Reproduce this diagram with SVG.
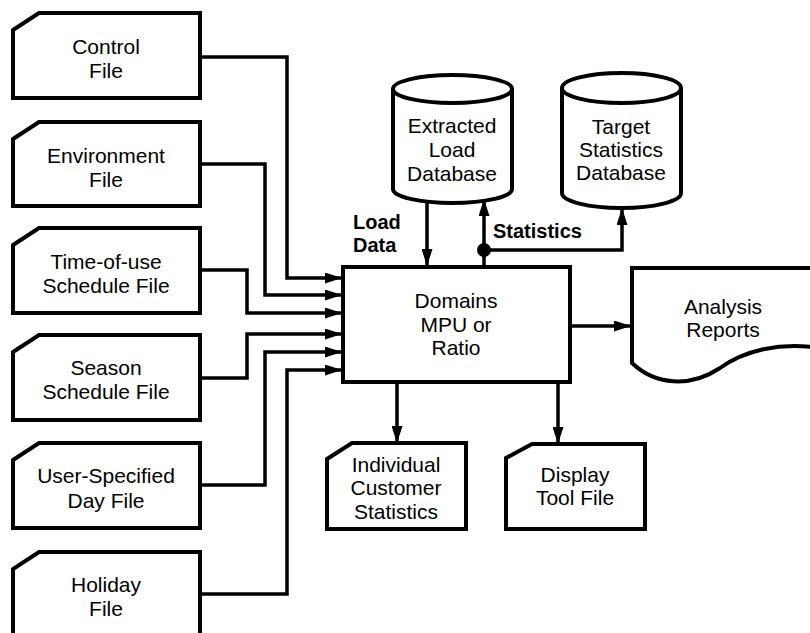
<svg xmlns="http://www.w3.org/2000/svg" width="810" height="633" viewBox="0 0 810 633">
<style>
.s{fill:#fff;stroke:#000;stroke-width:4;stroke-linejoin:miter}
.t{font-family:"Liberation Sans",Arial,sans-serif;font-size:21px;fill:#000;text-anchor:middle}
.b{font-family:"Liberation Sans",Arial,sans-serif;font-size:20px;font-weight:bold;fill:#000}
.c{fill:none;stroke:#000;stroke-width:3.5}
</style>
<defs>
<marker id="ah" markerUnits="userSpaceOnUse" markerWidth="17" markerHeight="11" refX="17" refY="5.5" orient="auto">
<path d="M0,0 L17,5.5 L0,11 Z" fill="#000"/>
</marker>
</defs>
<rect width="810" height="633" fill="#fff"/>

<g id="control">
<path class="s" d="M13,30 L39,13 L200,13 L200,98 L13,98 Z"/>
<text class="t" x="106" y="54">Control</text>
<text class="t" x="106" y="78">File</text>
</g>
<g id="environment">
<path class="s" d="M13,139 L39,122 L200,122 L200,206 L13,206 Z"/>
<text class="t" x="106" y="163">Environment</text>
<text class="t" x="106" y="187">File</text>
</g>
<g id="timeofuse">
<path class="s" d="M13,245 L39,228 L200,228 L200,313 L13,313 Z"/>
<text class="t" x="106" y="269">Time-of-use</text>
<text class="t" x="106" y="293">Schedule File</text>
</g>
<g id="season">
<path class="s" d="M13,352 L39,335 L200,335 L200,420 L13,420 Z"/>
<text class="t" x="106" y="375">Season</text>
<text class="t" x="106" y="399">Schedule File</text>
</g>
<g id="userday">
<path class="s" d="M13,460 L39,443 L200,443 L200,528 L13,528 Z"/>
<text class="t" x="106" y="483">User-Specified</text>
<text class="t" x="106" y="508">Day File</text>
</g>
<g id="holiday">
<path class="s" d="M13,640 L13,569 L39,552 L200,552 L200,640"/>
<text class="t" x="106" y="592">Holiday</text>
<text class="t" x="106" y="616">File</text>
</g>

<g id="domains">
<rect class="s" x="343" y="267" width="227" height="115"/>
<text class="t" x="456" y="308">Domains</text>
<text class="t" x="456" y="332">MPU or</text>
<text class="t" x="456" y="355">Ratio</text>
</g>

<g id="extracted">
<path class="s" d="M393,89 L393,189 A59.5,14 0 0 0 512,189 L512,89"/>
<ellipse class="s" cx="452.5" cy="89" rx="59.5" ry="14"/>
<text class="t" x="452" y="133">Extracted</text>
<text class="t" x="452" y="157">Load</text>
<text class="t" x="452" y="181">Database</text>
</g>

<g id="target">
<path class="s" d="M562,88 L562,193 A59.5,15 0 0 0 681,193 L681,88"/>
<ellipse class="s" cx="621.5" cy="88" rx="59.5" ry="15"/>
<text class="t" x="621" y="134">Target</text>
<text class="t" x="621" y="157">Statistics</text>
<text class="t" x="621" y="180">Database</text>
</g>

<g id="analysis">
<path class="s" d="M812,268 L632,268 L632,363 C655,385 690,388 720,368 C745,350 780,343 812,347"/>
<text class="t" x="723" y="314">Analysis</text>
<text class="t" x="723" y="337">Reports</text>
</g>

<g id="individual">
<path class="s" d="M327,459 L352,443 L466,443 L466,529 L327,529 Z"/>
<text class="t" x="396" y="472">Individual</text>
<text class="t" x="396" y="495">Customer</text>
<text class="t" x="396" y="519">Statistics</text>
</g>

<g id="display">
<path class="s" d="M506,458 L532,444 L645,444 L645,529 L506,529 Z"/>
<text class="t" x="575" y="482">Display</text>
<text class="t" x="575" y="505">Tool File</text>
</g>

<g id="connectors">
<path class="c" d="M200,57 L287,57 L287,278 L342,278" marker-end="url(#ah)"/>
<path class="c" d="M200,164 L265,164 L265,295 L342,295" marker-end="url(#ah)"/>
<path class="c" d="M200,270 L247,270 L247,313 L342,313" marker-end="url(#ah)"/>
<path class="c" d="M200,378 L247,378 L247,334 L342,334" marker-end="url(#ah)"/>
<path class="c" d="M200,485 L265,485 L265,352 L342,352" marker-end="url(#ah)"/>
<path class="c" d="M200,594 L287,594 L287,370 L342,370" marker-end="url(#ah)"/>
<path class="c" d="M427,203 L427,266" marker-end="url(#ah)"/>
<path class="c" d="M484,267 L484,199" marker-end="url(#ah)"/>
<path class="c" d="M484,250 L622,250 L622,208" marker-end="url(#ah)"/>
<circle cx="484" cy="250" r="7" fill="#000"/>
<path class="c" d="M570,326 L631,326" marker-end="url(#ah)"/>
<path class="c" d="M397,382 L397,443" marker-end="url(#ah)"/>
<path class="c" d="M558,382 L558,444" marker-end="url(#ah)"/>
<text class="b" x="353" y="229">Load</text>
<text class="b" x="353" y="252">Data</text>
<text class="b" x="493" y="238">Statistics</text>
</g>
</svg>
